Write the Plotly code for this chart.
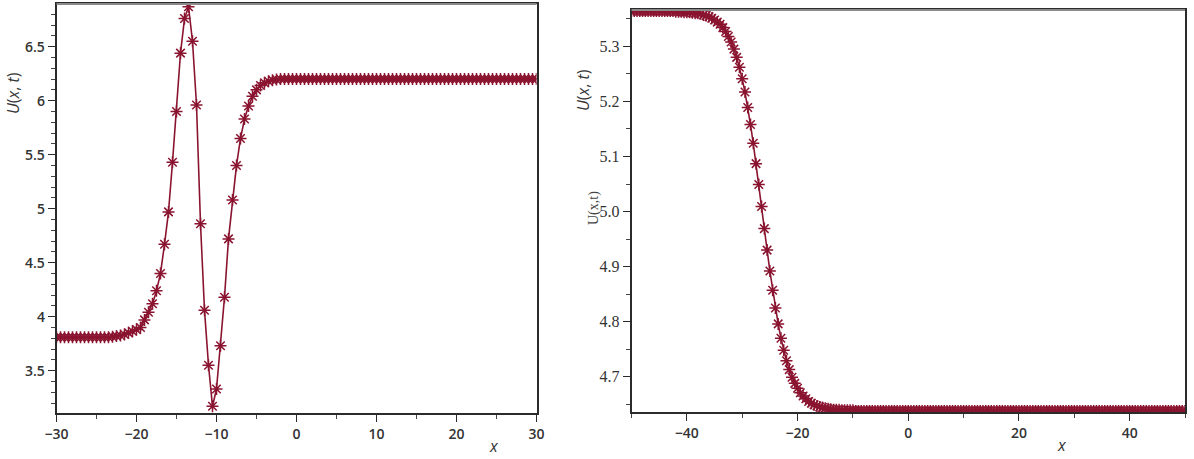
import plotly.graph_objects as go

# ---------------- data ----------------
left_x = [i * 0.5 for i in range(-60, 61)]          # x = -30 ... 30, step 0.5
left_u = ([3.81] * 13 +
          [3.81, 3.815, 3.82, 3.825, 3.835, 3.85, 3.865, 3.88, 3.90, 3.97,
           4.04, 4.12, 4.24, 4.40, 4.67, 4.97, 5.43, 5.90, 6.44, 6.76,
           6.87, 6.55, 5.96, 4.86, 4.06, 3.55, 3.17, 3.33, 3.73, 4.18,
           4.72, 5.08, 5.40, 5.65, 5.83, 5.95, 6.04, 6.10, 6.14, 6.165,
           6.18, 6.19, 6.195] +
          [6.20] * 65)

right_x = [i * 0.5 for i in range(-100, 101)]       # x = -50 ... 50, step 0.5
right_u = ([5.364] * 15 +
           [5.364, 5.363, 5.363, 5.363, 5.362, 5.362, 5.362, 5.361, 5.360, 5.360,
            5.359, 5.357, 5.356, 5.354, 5.351, 5.348, 5.344, 5.340, 5.334, 5.327,
            5.318, 5.308, 5.295, 5.280, 5.262, 5.241, 5.217, 5.189, 5.158, 5.124,
            5.087, 5.049, 5.009, 4.969, 4.930, 4.892, 4.857, 4.825, 4.796, 4.770,
            4.748, 4.729, 4.713, 4.699, 4.688, 4.679, 4.671, 4.665, 4.660, 4.655,
            4.652, 4.649, 4.647, 4.645, 4.644, 4.643, 4.642, 4.641, 4.640, 4.640,
            4.640, 4.639, 4.639, 4.639, 4.639, 4.639] +
           [4.638] * 120)

left_xrange = [-30, 30]
left_yrange = [3.108, 6.895]
right_xrange = [-50, 50]
right_yrange = [4.636, 5.366]

# ---------------- styling ----------------
W, H = 1194, 459
RED = "#8a1430"
AX = "#2b2b2b"

def fx(p):
    return p / W

def fy(p):
    return 1 - p / H

fig = go.Figure()

mk = dict(symbol="asterisk-open", size=10, line=dict(color=RED, width=1.5), color=RED)

fig.add_trace(go.Scatter(x=left_x, y=left_u, mode="lines+markers",
                         line=dict(color=RED, width=1.6), marker=mk,
                         xaxis="x", yaxis="y", showlegend=False))
fig.add_trace(go.Scatter(x=right_x, y=right_u, mode="lines+markers",
                         line=dict(color=RED, width=1.6), marker=mk,
                         xaxis="x2", yaxis="y2", showlegend=False))

sans = "Open Sans, Liberation Sans, Arial, sans-serif"
serif = "Liberation Serif, Times New Roman, serif"

def axis(domain, rng, dtick, minor_dtick, font, anchor, fmt=None, size=14, weight=600):
    d = dict(domain=domain, range=rng, dtick=dtick, tick0=0, automargin=False,
             showline=True, linecolor=AX, linewidth=1.6, mirror=True,
             ticks="outside", ticklen=7, tickwidth=1.4, tickcolor=AX,
             showgrid=False, zeroline=False, anchor=anchor,
             tickfont=dict(family=font, size=size, color="#333", weight=weight),
             minor=dict(dtick=minor_dtick, ticks="outside", ticklen=4,
                        tickwidth=1, tickcolor="#444", showgrid=False))
    if fmt:
        d["tickformat"] = fmt
    return d

fig.update_layout(
    width=W, height=H,
    margin=dict(l=0, r=0, t=0, b=0),
    paper_bgcolor="white", plot_bgcolor="white",
    xaxis=axis([fx(56.5), fx(536.5)], left_xrange, 10, 5, sans, "y"),
    yaxis=axis([fy(413), fy(4)], left_yrange, 0.5, 0.1, sans, "x"),
    xaxis2=axis([fx(631.5), fx(1185)], right_xrange, 20, 10, sans, "y2"),
    yaxis2=axis([fy(412), fy(10)], right_yrange, 0.1, 0.05, serif, "x2", ".1f",
                size=16, weight=400),
)

# gray top borders
for x0, x1, y in [(56.5, 536.5, 4), (631.5, 1185, 10)]:
    fig.add_shape(type="line", xref="paper", yref="paper",
                  x0=fx(x0), x1=fx(x1), y0=fy(y), y1=fy(y),
                  line=dict(color="#8a8a8a", width=2))

ann = [
    dict(text="<i>U</i>(<i>x</i>, <i>t</i>)", x=fx(13), y=fy(93), textangle=-90,
         font=dict(family=sans, size=16, color="#333")),
    dict(text="<i>U</i>(<i>x</i>, <i>t</i>)", x=fx(583), y=fy(90), textangle=-90,
         font=dict(family=sans, size=16, color="#333")),
    dict(text="U(x,t)", x=fx(594), y=fy(208), textangle=-90,
         font=dict(family=serif, size=14, color="#444")),
    dict(text="<i>x</i>", x=fx(494), y=fy(446),
         font=dict(family=sans, size=16, color="#333")),
    dict(text="<i>x</i>", x=fx(1062), y=fy(445),
         font=dict(family=sans, size=16, color="#333")),
]
for a in ann:
    fig.add_annotation(xref="paper", yref="paper", showarrow=False,
                       xanchor="center", yanchor="middle", **a)

fig.write_html("out.html")
